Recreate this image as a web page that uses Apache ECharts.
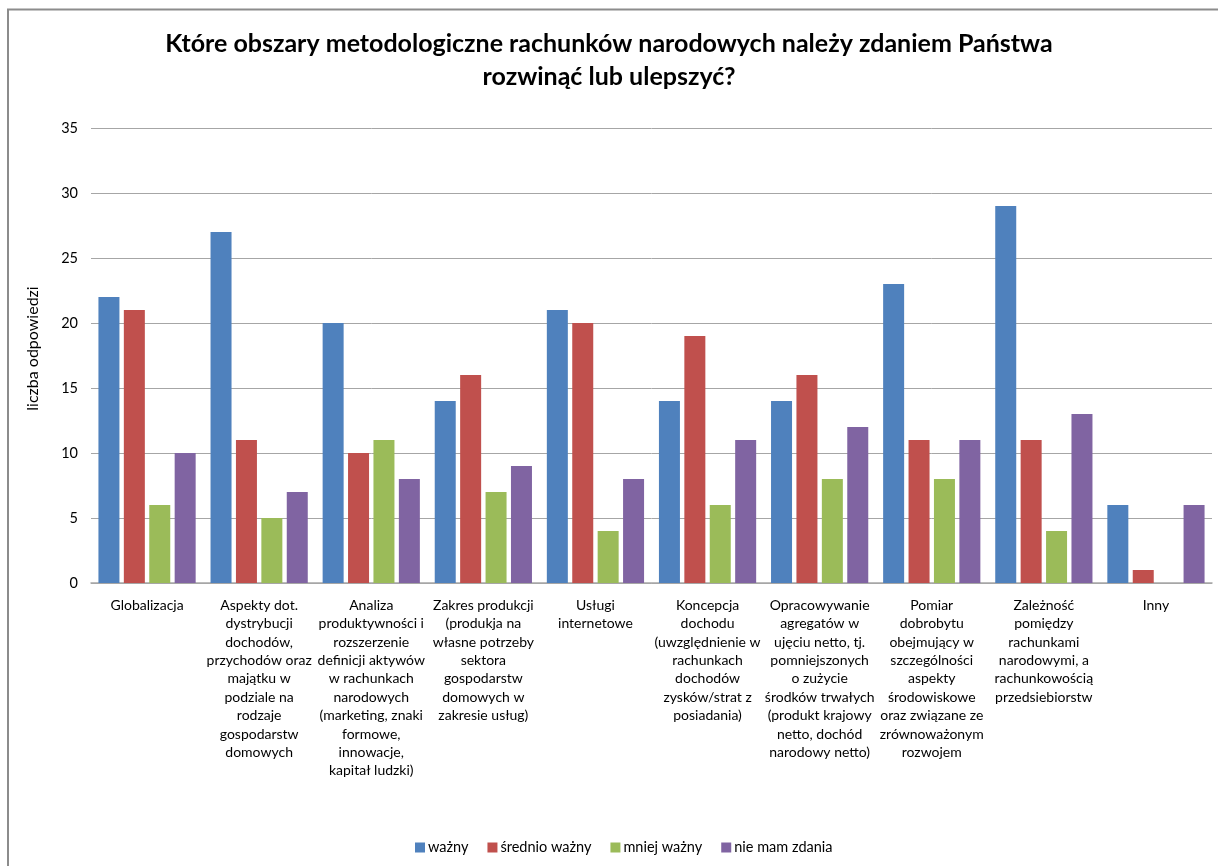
<!DOCTYPE html>
<html>
<head>
<meta charset="utf-8">
<script src="https://cdn.jsdelivr.net/npm/echarts@6/dist/echarts.min.js"></script>
<style>
html,body{margin:0;padding:0;background:#fff;}
#c{width:1218px;height:866px;}
</style>
</head>
<body>
<div id="c"></div>
<script>
const titleText = 'Które obszary metodologiczne rachunków narodowych należy zdaniem Państwa\nrozwinąć lub ulepszyć?';
const yAxisName = 'liczba odpowiedzi';
const categories = [
  'Globalizacja',
  'Aspekty dot.\ndystrybucji\ndochodów,\nprzychodów oraz\nmajątku w\npodziale na\nrodzaje\ngospodarstw\ndomowych',
  'Analiza\nproduktywności i\nrozszerzenie\ndefinicji aktywów\nw rachunkach\nnarodowych\n(marketing, znaki\nformowe,\ninnowacje,\nkapitał ludzki)',
  'Zakres produkcji\n(produkja na\nwłasne potrzeby\nsektora\ngospodarstw\ndomowych w\nzakresie usług)',
  'Usługi\ninternetowe',
  'Koncepcja\ndochodu\n(uwzględnienie w\nrachunkach\ndochodów\nzysków/strat z\nposiadania)',
  'Opracowywanie\nagregatów w\nujęciu netto, tj.\npomniejszonych\no zużycie\nśrodków trwałych\n(produkt krajowy\nnetto, dochód\nnarodowy netto)',
  'Pomiar\ndobrobytu\nobejmujący w\nszczególności\naspekty\nśrodowiskowe\noraz związane ze\nzrównoważonym\nrozwojem',
  'Zależność\npomiędzy\nrachunkami\nnarodowymi, a\nrachunkowością\nprzedsiebiorstw',
  'Inny'
];
const seriesNames = ['ważny', 'średnio ważny', 'mniej ważny', 'nie mam zdania'];
const wazny        = [22, 27, 20, 14, 21, 14, 14, 23, 29, 6];
const srednioWazny = [21, 11, 10, 16, 20, 19, 16, 11, 11, 1];
const mniejWazny   = [6, 5, 11, 7, 4, 6, 8, 8, 4, 0];
const nieMamZdania = [10, 7, 8, 9, 8, 11, 12, 11, 13, 6];
const yTicks = { min: 0, max: 35, interval: 5 };

const colors = ['#4F81BD', '#C0504D', '#9BBB59', '#8064A2'];
const FONT = 'Lato, "Noto Sans", sans-serif';
const allData = [wazny, srednioWazny, mniejWazny, nieMamZdania];

const chart = echarts.init(document.getElementById('c'), null, {renderer: 'canvas'});
chart.setOption({
  animation: false,
  backgroundColor: '#fff',
  color: colors,
  textStyle: { fontFamily: FONT },
  title: {
    text: titleText,
    left: 'center',
    top: 22,
    textStyle: { fontFamily: FONT, fontSize: 25, fontWeight: 'bold', color: '#000', lineHeight: 33 }
  },
  grid: { left: 91, right: 6, top: 128, bottom: 283, containLabel: false },
  legend: {
    data: seriesNames,
    bottom: 6,
    left: 410,
    itemWidth: 10,
    itemHeight: 10,
    itemGap: 19,
    icon: 'rect',
    textStyle: { fontFamily: FONT, fontSize: 14.5, color: '#000', padding: [0, 0, 0, -2] }
  },
  xAxis: {
    type: 'category',
    data: categories,
    axisTick: { show: false },
    axisLine: { show: true, lineStyle: { color: '#A6A6A6', width: 1.5 } },
    axisLabel: {
      interval: 0,
      margin: 13,
      fontFamily: FONT,
      fontSize: 14,
      lineHeight: 18.4,
      color: '#000',
      align: 'center'
    }
  },
  yAxis: {
    type: 'value',
    min: yTicks.min,
    max: yTicks.max,
    interval: yTicks.interval,
    name: yAxisName,
    nameLocation: 'middle',
    nameGap: 50,
    nameRotate: 90,
    nameTextStyle: { fontFamily: FONT, fontSize: 16, color: '#000', padding: [0, 0, 0, 14] },
    axisLine: { show: false },
    axisTick: { show: false },
    axisLabel: { margin: 13, fontFamily: FONT, fontSize: 14.5, color: '#000' },
    splitLine: { lineStyle: { color: '#A6A6A6', width: 1 } }
  },
  series: seriesNames.map((n, i) => ({
    name: n,
    type: 'bar',
    data: allData[i],
    barWidth: 21,
    barGap: '21%',
    itemStyle: { color: colors[i] }
  })),
  graphic: [
    {
      type: 'rect',
      shape: { x: 8, y: 9.5, width: 1300, height: 1000 },
      style: { fill: null, stroke: '#8C8C8C', lineWidth: 2 },
      silent: true
    }
  ]
});
</script>
</body>
</html>
